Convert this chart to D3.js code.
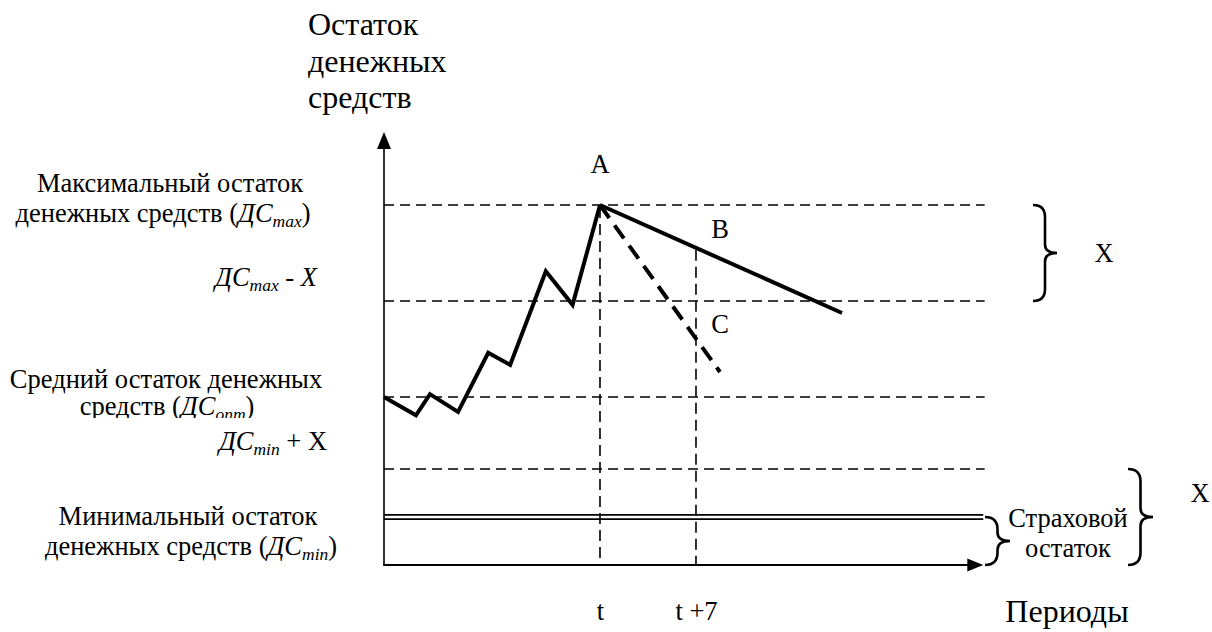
<!DOCTYPE html>
<html>
<head>
<meta charset="utf-8">
<script src="https://cdn.jsdelivr.net/npm/d3@7/dist/d3.min.js"></script>
<style>
  html, body { margin: 0; padding: 0; background: #fff; }
  svg { display: block; }
  text { font-family: "Liberation Serif", "Times New Roman", serif; fill: #000; }
</style>
</head>
<body>
<svg id="chart" width="1212" height="632"></svg>
<script>
// Cash balance over time (days) and reference levels
const balanceDays   = [0, 2.33, 3.35, 5.4, 7.6, 9.2, 11.8, 13.75, 15.75];
const balanceValues = [35, 31.2, 35.6, 31.9, 44.2, 41.7, 61.2, 54.2, 75];

// Two spending scenarios after the peak A
const slowDays   = [15.75, 33.4];
const slowValues = [75, 52.5];
const fastDays   = [15.75, 24.5];
const fastValues = [75, 40.2];

// Horizontal reference levels (dashed) and the safety minimum (double line)
const dashedLevels = [20, 35, 55, 75];
const minLevel = 10;
const axisMax = 90;
const dayMax = 44;
const levelLineEnd = 43.8;
const axisEnd = 43.7;

// Period marks on the time axis
const periodMarks  = [15.75, 22.75];
const periodLabels = ["t", "t +7"];

const svg = d3.select("#chart");
const x = d3.scaleLinear().domain([0, dayMax]).range([384, 987.4]);
const y = d3.scaleLinear().domain([0, axisMax]).range([565, 133]);

const ink = "#000";
const fs = 26.5;     // label size
const fsBig = 32;    // axis titles

// reference level lines
svg.append("g").selectAll("line").data(dashedLevels).join("line")
  .attr("x1", x(0)).attr("x2", x(levelLineEnd))
  .attr("y1", d => y(d)).attr("y2", d => y(d))
  .attr("stroke", ink).attr("stroke-width", 1.6)
  .attr("stroke-dasharray", "10,6");

// safety minimum as a double line
svg.append("g").selectAll("line").data([-2.2, 2.2]).join("line")
  .attr("x1", x(0)).attr("x2", x(axisEnd))
  .attr("y1", d => y(minLevel) + d).attr("y2", d => y(minLevel) + d)
  .attr("stroke", ink).attr("stroke-width", 1.8);

// vertical dashed markers at t and t+7
const slowAt = d => slowValues[0] + (slowValues[1] - slowValues[0]) * (d - slowDays[0]) / (slowDays[1] - slowDays[0]);
svg.append("g").selectAll("line").data(periodMarks).join("line")
  .attr("x1", d => x(d)).attr("x2", d => x(d))
  .attr("y1", d => y(slowAt(d)) + 2).attr("y2", y(0))
  .attr("stroke", ink).attr("stroke-width", 1.6)
  .attr("stroke-dasharray", "11,6");

// axes with arrowheads
svg.append("line").attr("x1", x(0)).attr("x2", x(0))
  .attr("y1", y(0)).attr("y2", y(axisMax) + 10)
  .attr("stroke", ink).attr("stroke-width", 1.6);
svg.append("path")
  .attr("d", `M${x(0)},${y(axisMax) - 1} L${x(0) - 7},${y(axisMax) + 16} L${x(0) + 7},${y(axisMax) + 16} Z`)
  .attr("fill", ink);
svg.append("line").attr("x1", x(0) - 0.8).attr("x2", x(axisEnd) - 10)
  .attr("y1", y(0)).attr("y2", y(0))
  .attr("stroke", ink).attr("stroke-width", 1.8);
svg.append("path")
  .attr("d", `M${x(axisEnd)},${y(0)} L${x(axisEnd) - 16},${y(0) - 6.5} L${x(axisEnd) - 16},${y(0) + 6.5} Z`)
  .attr("fill", ink);

// balance path and scenarios
const line = d3.line().x(d => x(d[0])).y(d => y(d[1]));
svg.append("path")
  .attr("d", line(d3.zip(balanceDays, balanceValues)))
  .attr("fill", "none").attr("stroke", ink).attr("stroke-width", 4)
  .attr("stroke-linejoin", "miter");
svg.append("path")
  .attr("d", line(d3.zip(slowDays, slowValues)))
  .attr("fill", "none").attr("stroke", ink).attr("stroke-width", 4);
svg.append("path")
  .attr("d", line(d3.zip(fastDays, fastValues)))
  .attr("fill", "none").attr("stroke", ink).attr("stroke-width", 4)
  .attr("stroke-dasharray", "16,9");

// period labels under the time axis
const xAxis = d3.axisBottom(x).tickValues(periodMarks)
  .tickFormat((d, i) => periodLabels[i]).tickSize(0).tickPadding(36);
const gx = svg.append("g").attr("transform", `translate(0,${y(0)})`).call(xAxis);
gx.select(".domain").remove();
gx.selectAll("text").attr("font-family", "Liberation Serif").attr("font-size", fs).attr("fill", ink);

// curly braces
function brace(x0, y1, y2, w) {
  const m = (y1 + y2) / 2, v = x0 + w * 0.5, r = w * 0.5;
  return `M${x0},${y1} Q${v},${y1} ${v},${y1 + r} L${v},${m - r * 0.7} Q${v},${m} ${x0 + w},${m}` +
         ` Q${v},${m} ${v},${m + r * 0.7} L${v},${y2 - r} Q${v},${y2} ${x0},${y2}`;
}
const braces = [
  [1033, y(75), y(55), 24],
  [1128, y(20), y(0), 25],
  [985, y(minLevel), y(0), 25]
];
svg.append("g").selectAll("path").data(braces).join("path")
  .attr("d", d => brace(...d))
  .attr("fill", "none").attr("stroke", ink).attr("stroke-width", 2.6);

// text helper: segments of [text, italic, subscript]
function label(xp, yp, size, segs, anchor = "middle") {
  const t = svg.append("text").attr("x", xp).attr("y", yp)
    .attr("font-size", size).attr("text-anchor", anchor);
  let shifted = false;
  segs.forEach(([s, it, sub]) => {
    const ts = t.append("tspan").text(s);
    if (it) ts.attr("font-style", "italic");
    if (sub && !shifted) { ts.attr("dy", 5).attr("font-size", size * 0.66); shifted = true; }
    else if (sub) { ts.attr("font-size", size * 0.66); }
    else if (shifted) { ts.attr("dy", -5); shifted = false; }
  });
  return t;
}

// axis titles
["Остаток", "денежных", "средств"].forEach((s, i) =>
  label(308, 35 + i * 36.7, fsBig, [[s]], "start"));
label(1067, 622, fsBig, [["Периоды"]]);

// level labels on the left
label(170, 192, fs, [["Максимальный остаток"]]);
label(163, 222, fs, [["денежных средств ("], ["ДС", true], ["max", true, true], [")"]]);
label(266, 286, fs, [["ДС", true], ["max", true, true], [" - "], ["X", true]]);
label(166, 388, fs, [["Средний остаток денежных"]]);
svg.append("clipPath").attr("id", "optClip").append("rect")
  .attr("x", 0).attr("y", 380).attr("width", 380).attr("height", 38);
label(167, 415, fs, [["средств ("], ["ДС", true], ["опт", true, true], [")"]])
  .attr("clip-path", "url(#optClip)");
label(273, 450, fs, [["ДС", true], ["min", true, true], [" + X"]]);
label(188, 525, fs, [["Минимальный остаток"]]);
label(191, 555, fs, [["денежных средств ("], ["ДС", true], ["min", true, true], [")"]]);

// point labels
label(600, 173, fs, [["A"]]);
label(720, 238, fs, [["B"]]);
label(720, 333, fs, [["C"]]);
label(1104, 262, fs, [["X"]]);
label(1200, 502, fs, [["X"]]);
label(1068, 527, fs, [["Страховой"]]);
label(1068, 557, fs, [["остаток"]]);
</script>
</body>
</html>
